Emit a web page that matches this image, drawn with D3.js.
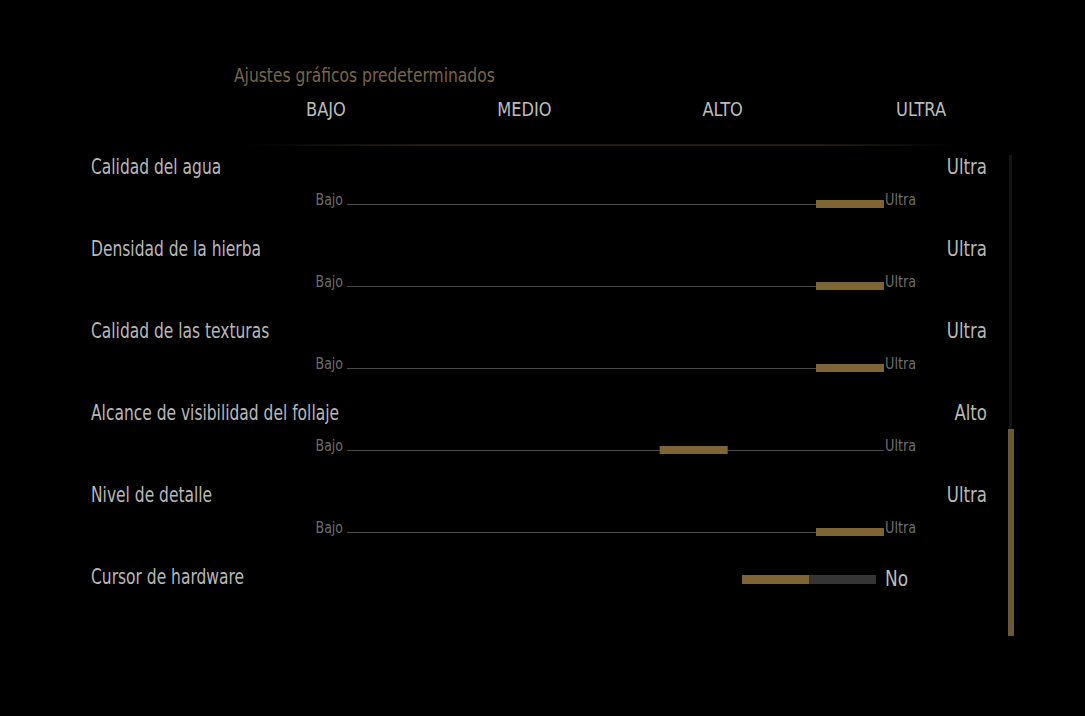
<!DOCTYPE html>
<html>
<head>
<meta charset="utf-8">
<script src="https://cdn.jsdelivr.net/npm/d3@7"></script>
<style>
  body { margin: 0; background: #000; }
  svg { display: block; }
  text { font-family: "DejaVu Sans Condensed", "DejaVu Sans", sans-serif; }
</style>
</head>
<body>
<svg id="chart" width="1085" height="716"></svg>
<script>
// niveles de calidad
var niveles = ["BAJO", "MEDIO", "ALTO", "ULTRA"];
var nivelesNombre = ["Bajo", "Medio", "Alto", "Ultra"];

// ajustes y valor elegido (indice en niveles)
var ajustes = ["Calidad del agua", "Densidad de la hierba", "Calidad de las texturas",
               "Alcance de visibilidad del follaje", "Nivel de detalle"];
var valores = [3, 3, 3, 2, 3];

// interruptor
var interruptor = "Cursor de hardware";
var interruptorValor = "No";

var svg = d3.select("#chart");
var gold = "#7f6535";

// texto estrecho (la fuente del juego es condensada)
function pos(x, y, sx) {
    return "translate(" + x + "," + y + ") scale(" + sx + ",1)";
}

// columnas de la cabecera
var xCol = d3.scalePoint().domain(niveles).range([326, 921]);

svg.append("text")
    .attr("transform", pos(234, 82, 0.885))
    .attr("fill", "#7a6547")
    .attr("font-size", 19.5)
    .text("Ajustes gráficos predeterminados");

svg.selectAll(".col")
    .data(niveles)
    .enter().append("text")
    .attr("class", "col")
    .attr("transform", d => pos(xCol(d), 116, 0.95))
    .attr("text-anchor", "middle")
    .attr("fill", "#bdbdbd")
    .attr("font-size", 19)
    .text(d => d);

// linea divisoria con degradado
var defs = svg.append("defs");
var grad = defs.append("linearGradient").attr("id", "div");
grad.append("stop").attr("offset", "0%").attr("stop-color", "#3a2e1c").attr("stop-opacity", 0);
grad.append("stop").attr("offset", "25%").attr("stop-color", "#3a2e1c").attr("stop-opacity", 1);
grad.append("stop").attr("offset", "80%").attr("stop-color", "#3a2e1c").attr("stop-opacity", 1);
grad.append("stop").attr("offset", "100%").attr("stop-color", "#3a2e1c").attr("stop-opacity", 0);
svg.append("rect")
    .attr("x", 240).attr("y", 144.5).attr("width", 720).attr("height", 1.2)
    .attr("fill", "url(#div)");

// filas
var yRow = d3.scaleLinear().domain([0, 1]).range([167, 249]);
var xHandle = d3.scaleLinear().domain([0, niveles.length - 1]).range([347, 816]);
var trackX0 = 347, trackX1 = 884, handleW = 68;

var filas = svg.selectAll(".fila")
    .data(ajustes)
    .enter().append("g")
    .attr("class", "fila")
    .attr("transform", (d, i) => "translate(0," + yRow(i) + ")");

filas.append("text")
    .attr("transform", pos(91, 7, 0.84))
    .attr("fill", "#b8b8b8")
    .attr("font-size", 20.5)
    .text(d => d);

filas.append("text")
    .attr("transform", pos(987, 7, 0.9))
    .attr("text-anchor", "end")
    .attr("fill", "#b8b8b8")
    .attr("font-size", 20.5)
    .text((d, i) => nivelesNombre[valores[i]]);

filas.append("line")
    .attr("x1", trackX0).attr("x2", trackX1)
    .attr("y1", 37.5).attr("y2", 37.5)
    .attr("stroke", "#4a4a4a")
    .attr("stroke-width", 1);

filas.append("rect")
    .attr("x", (d, i) => xHandle(valores[i]))
    .attr("y", 33)
    .attr("width", handleW)
    .attr("height", 8)
    .attr("fill", gold);

filas.append("text")
    .attr("transform", pos(343, 38, 0.9))
    .attr("text-anchor", "end")
    .attr("fill", "#6e6e6e")
    .attr("font-size", 15.5)
    .text(nivelesNombre[0]);

filas.append("text")
    .attr("transform", pos(885, 38, 0.92))
    .attr("fill", "#6e6e6e")
    .attr("font-size", 15.5)
    .text(nivelesNombre[niveles.length - 1]);

// interruptor
var yT = yRow(ajustes.length);
svg.append("text")
    .attr("transform", pos(91, yT + 7, 0.84))
    .attr("fill", "#b8b8b8")
    .attr("font-size", 20.5)
    .text(interruptor);

var xT = d3.scaleLinear().domain([0, 2]).range([742, 876]);
svg.append("rect")
    .attr("x", xT(0)).attr("y", yT - 2).attr("width", xT(1) - xT(0)).attr("height", 9)
    .attr("fill", gold);
svg.append("rect")
    .attr("x", xT(1)).attr("y", yT - 2).attr("width", xT(2) - xT(1)).attr("height", 9)
    .attr("fill", "#353535");
svg.append("text")
    .attr("transform", pos(885, yT + 9, 0.9))
    .attr("fill", "#bdbdbd")
    .attr("font-size", 21)
    .text(interruptorValor);

// barra de desplazamiento
svg.append("rect")
    .attr("x", 1009).attr("y", 155).attr("width", 3).attr("height", 480)
    .attr("fill", "#141414");
svg.append("rect")
    .attr("x", 1008).attr("y", 429).attr("width", 6).attr("height", 207)
    .attr("fill", "#6b5837");
</script>
</body>
</html>
